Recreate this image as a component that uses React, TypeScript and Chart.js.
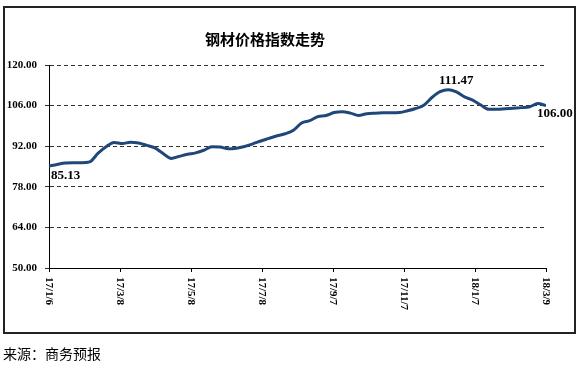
import React, { useEffect, useRef } from "react";
import { Chart, registerables } from "chart.js";

Chart.register(...registerables);

// x positions in days since 17/1/6 (weekly readings)
const days: number[] = [
  0, 7, 14, 21, 28, 35, 42, 49, 56, 63, 70, 77, 84, 91, 98, 105, 112, 119, 126, 133,
  140, 147, 154, 161, 168, 175, 182, 189, 196, 203, 210, 217, 224, 231, 238, 245, 252, 259, 266, 273,
  280, 287, 294, 301, 308, 315, 322, 329, 336, 343, 350, 357, 364, 371, 378, 385, 392, 399, 406, 413,
  420, 427,
];

const indexValues: number[] = [
  85.13, 85.7, 86.2, 86.3, 86.3, 86.6, 89.5, 91.8, 93.3, 92.9,
  93.4, 93.1, 92.3, 91.4, 89.5, 87.8, 88.5, 89.2, 89.7, 90.6,
  91.8, 91.7, 91.1, 91.3, 91.9, 92.8, 93.8, 94.7, 95.6, 96.3,
  97.5, 100.0, 100.8, 102.2, 102.6, 103.6, 103.9, 103.4, 102.6, 103.2,
  103.4, 103.5, 103.5, 103.6, 104.2, 105.0, 106.1, 108.8, 110.8, 111.47,
  110.7, 109.0, 107.9, 106.2, 104.7, 104.7, 104.9, 105.1, 105.3, 105.6,
  106.7, 106.0,
];

const xTickValues: number[] = [0, 61, 122, 183, 244, 305, 366, 427];
const xTickLabels: string[] = ["17/1/6", "17/3/8", "17/5/8", "17/7/8", "17/9/7", "17/11/7", "18/1/7", "18/3/9"];

const yMin = 50;
const yMax = 120;
const yStep = 14;

// indices of labelled points
const labelledIndices: number[] = [0, 49, 61];

const titleText = "钢材价格指数走势";
const sourceText = "来源：商务预报";

const labelOffsets: { [k: number]: { dx: number; dy: number; align: CanvasTextAlign } } = {
  0: { dx: 2, dy: 10, align: "left" },
  49: { dx: 8, dy: -9, align: "center" },
  61: { dx: -9, dy: 8, align: "left" },
};

const customLabels = {
  id: "customLabels",
  afterDraw(chart: any) {
    const { ctx, scales } = chart;
    const x = scales.x;
    const y = scales.y;
    ctx.save();
    ctx.fillStyle = "#000";
    ctx.font = 'bold 11px "Liberation Serif"';
    xTickLabels.forEach((lab, i) => {
      const px = x.getPixelForValue(xTickValues[i]);
      ctx.save();
      ctx.translate(px, y.bottom + 9);
      ctx.rotate(Math.PI / 2);
      ctx.textAlign = "left";
      ctx.textBaseline = "middle";
      ctx.fillText(lab, 0, 0);
      ctx.restore();
    });
    ctx.font = 'bold 13px "Liberation Serif"';
    ctx.textBaseline = "middle";
    labelledIndices.forEach((idx) => {
      const o = labelOffsets[idx];
      const px = x.getPixelForValue(days[idx]);
      const py = y.getPixelForValue(indexValues[idx]);
      ctx.textAlign = o.align;
      ctx.fillText(indexValues[idx].toFixed(2), px + o.dx, py + o.dy);
    });
    ctx.restore();
  },
};

export default function App() {
  const canvasRef = useRef<HTMLCanvasElement | null>(null);

  useEffect(() => {
    if (!canvasRef.current) return;
    const chart = new Chart(canvasRef.current, {
      type: "line",
      data: {
        datasets: [
          {
            data: days.map((d, i) => ({ x: d, y: indexValues[i] })),
            borderColor: "#1F477A",
            borderWidth: 3,
            pointRadius: 0,
            tension: 0.4,
            cubicInterpolationMode: "monotone",
            fill: false,
          },
        ],
      },
      options: {
        responsive: false,
        animation: false,
        devicePixelRatio: 1,
        layout: { padding: { left: 0, right: 33, top: 65, bottom: 0 } },
        plugins: {
          legend: { display: false },
          tooltip: { enabled: false },
          title: { display: false },
        },
        scales: {
          x: {
            type: "linear",
            min: 0,
            max: 427,
            afterFit: (s: any) => {
              s.height = 100;
            },
            ticks: { stepSize: 61, display: false },
            grid: {
              drawOnChartArea: false,
              drawTicks: true,
              tickLength: 4,
              tickColor: "#000",
              tickWidth: 1,
            },
            border: { display: true, color: "#000", width: 1 },
          },
          y: {
            min: yMin,
            max: yMax,
            afterFit: (s: any) => {
              s.width = 49;
            },
            ticks: {
              stepSize: yStep,
              padding: 8,
              color: "#000",
              font: { family: '"Liberation Serif"', size: 11, weight: "bold" },
              callback: (v: any) => Number(v).toFixed(2),
            },
            grid: {
              color: "#333",
              lineWidth: 1,
              drawTicks: true,
              tickLength: 4,
              tickColor: "#333",
            },
            border: { display: true, color: "#000", width: 1, dash: [4, 3] },
          },
        },
      },
      plugins: [customLabels],
    } as any);
    return () => chart.destroy();
  }, []);

  return (
    <div style={{ position: "absolute", left: 0, top: 0, width: 579, height: 368, background: "#fff", overflow: "hidden" }}>
      <div
        style={{
          position: "absolute",
          left: 3,
          top: 6,
          width: 573,
          height: 328,
          border: "2px solid #222",
          boxSizing: "border-box",
        }}
      />
      <canvas ref={canvasRef} width={579} height={368} style={{ position: "absolute", left: 0, top: 0, width: 579, height: 368 }} />
      <div
        style={{
          position: "absolute",
          left: 265,
          top: 29,
          transform: "translateX(-50%)",
          whiteSpace: "nowrap",
          font: 'bold 15px "Noto Sans CJK SC"',
          lineHeight: "20px",
          color: "#000",
        }}
      >
        {titleText}
      </div>
      <div
        style={{
          position: "absolute",
          left: 3,
          top: 343,
          whiteSpace: "nowrap",
          font: '14px "Noto Sans CJK SC"',
          lineHeight: "20px",
          color: "#000",
        }}
      >
        {sourceText}
      </div>
    </div>
  );
}
